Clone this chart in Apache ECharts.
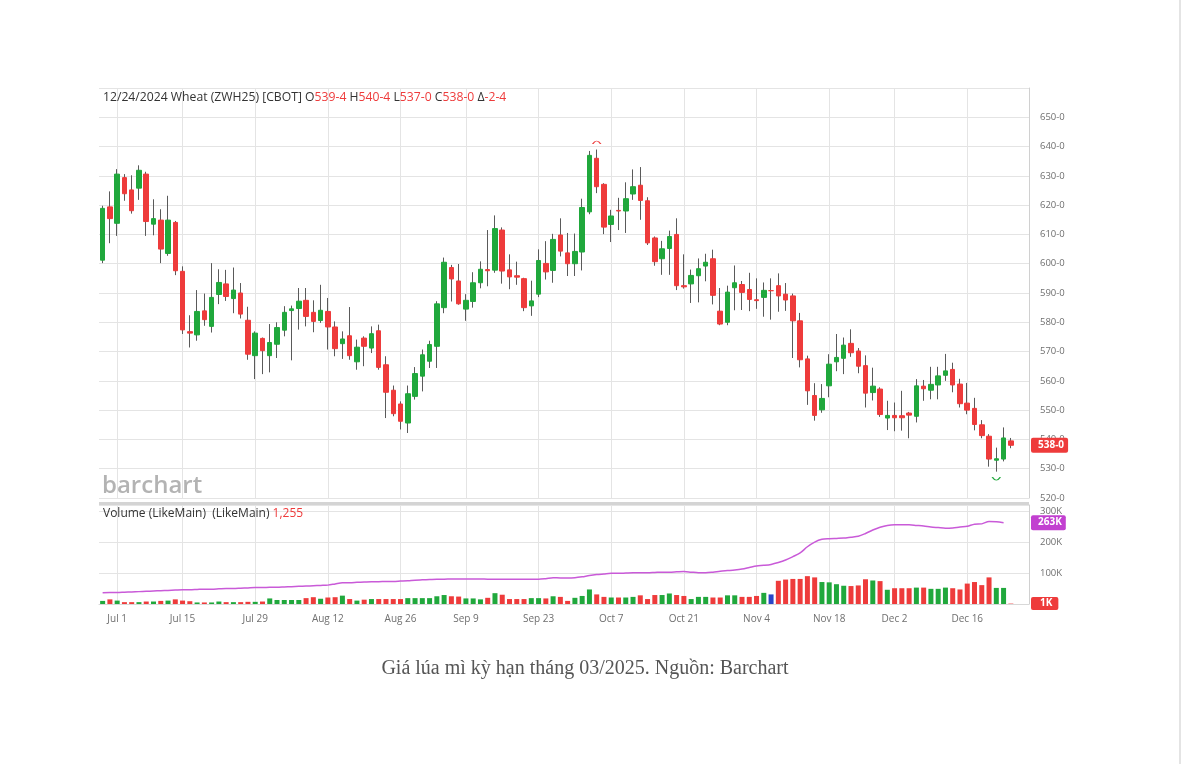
<!DOCTYPE html>
<html><head><meta charset="utf-8">
<script src="https://cdn.jsdelivr.net/npm/echarts@6/dist/echarts.min.js"></script>
<style>
html,body{margin:0;padding:0;background:#fff;}
#chart{position:absolute;left:0;top:0;width:1185px;height:764px;}
#edge{position:absolute;left:1179px;top:0;width:2px;height:764px;background:#e4e4e4;}
#cap{position:absolute;left:0;width:1170px;top:656px;text-align:center;font-family:"Liberation Serif","DejaVu Serif",serif;font-size:20px;color:#555;}
</style></head><body>
<div id="chart"></div><div id="edge"></div>
<div id="cap">Giá lúa mì kỳ hạn tháng 03/2025. Nguồn: Barchart</div>
<script>
// ---- DATA ----
const opens = [601.2,619.4,613.8,629.4,625.2,625.8,630.6,613.5,614.9,603.5,614.1,597.4,576.8,575.7,583.9,578.6,589.5,593.1,588.1,590.0,
580.7,568.6,574.5,568.6,572.5,577.3,584.0,584.7,587.5,583.4,580.6,583.7,578.4,572.7,575.4,566.5,574.6,571.2,577.1,565.5,
556.8,552.1,545.6,554.7,561.6,566.7,571.8,585.0,598.7,594.1,584.5,587.1,593.5,598.0,597.8,611.5,597.9,595.9,594.9,585.6,
589.6,600.1,597.7,609.8,603.7,600.0,604.0,617.7,636.0,627.1,613.4,618.2,618.0,623.8,626.8,621.5,608.8,601.7,605.2,610.0,
592.5,593.1,595.9,599.2,601.7,583.8,580.0,591.8,592.9,591.2,587.7,588.5,590.8,592.5,589.6,589.0,580.5,567.5,555.0,550.1,
558.3,566.5,567.7,572.8,570.2,565.2,556.0,557.2,547.3,548.2,548.1,549.0,547.9,558.2,556.8,558.6,561.9,563.9,558.9,552.4,
550.6,545.0,541.1,532.9,533.3,539.5];
const closes = [618.9,615.4,630.6,623.9,618.1,631.9,614.4,615.4,605.0,614.9,597.6,577.4,576.3,583.7,580.9,588.5,593.6,588.8,591.0,582.8,
569.1,576.3,570.3,573.1,578.2,583.4,584.6,587.2,582.0,580.3,584.1,578.4,571.0,574.3,568.6,571.5,571.8,576.1,564.6,556.1,
548.8,546.2,555.6,562.5,568.9,572.4,586.3,600.5,594.8,586.3,587.5,593.5,598.1,597.6,612.0,597.5,595.5,595.4,585.0,587.3,
601.1,597.2,608.3,604.3,600.0,604.2,619.2,637.0,626.3,612.5,616.3,618.0,622.2,626.3,621.6,607.1,600.7,605.1,609.3,592.5,
592.1,596.0,598.3,600.5,589.2,579.4,590.3,593.5,590.2,587.8,587.4,590.9,590.8,589.0,587.6,580.5,567.2,556.6,548.2,554.0,
565.7,568.0,572.2,569.6,565.0,555.8,558.2,548.5,548.2,547.4,547.4,548.3,558.3,557.3,558.8,561.7,563.4,558.6,552.2,550.0,
545.1,541.3,533.3,533.4,540.5,538.0];
const highs = [619.8,624.7,632.3,630.6,630.2,633.6,631.4,622.0,618.6,623.2,614.6,599.1,582.4,591.0,589.8,600.2,598.1,597.9,598.7,593.4,
585.3,576.9,574.8,579.4,580.0,585.5,585.7,591.7,591.7,587.5,592.8,588.3,580.3,576.9,585.2,574.1,575.2,578.6,579.2,568.4,
558.4,553.0,558.4,564.7,570.7,573.7,587.2,602.1,599.6,599.9,589.6,597.1,600.8,611.5,616.5,612.4,603.2,600.7,595.2,594.2,
604.9,607.7,610.2,615.5,610.5,610.3,622.2,638.5,639.0,627.5,618.4,622.5,627.8,632.2,633.0,622.7,609.3,607.8,611.3,615.5,
603.2,598.0,601.8,603.4,604.8,591.7,592.5,599.4,594.1,596.9,595.0,593.6,595.0,596.7,593.4,589.8,583.2,568.6,559.2,558.9,
569.1,576.0,574.8,577.6,571.2,568.7,564.5,557.8,553.2,552.6,556.6,549.4,560.6,560.3,564.8,564.8,569.2,566.2,560.7,559.3,
554.2,546.6,541.8,537.2,544.1,540.5];
const lows = [600.2,607.0,609.5,621.5,617.1,621.8,609.5,609.7,600.2,602.7,596.1,576.0,571.4,573.7,578.8,576.5,586.2,587.3,583.1,581.3,
567.2,560.6,562.3,562.9,567.8,575.2,567.0,577.5,578.6,576.6,579.8,570.7,568.4,567.5,567.2,563.8,565.0,569.5,563.8,547.3,
547.9,543.4,542.2,553.6,556.4,564.4,564.4,583.1,587.1,586.0,580.5,585.0,591.6,592.3,596.9,593.2,591.3,592.8,583.8,582.2,
588.6,594.6,593.5,602.5,595.8,595.8,597.7,616.9,624.1,610.1,607.4,611.5,610.5,621.8,615.0,606.4,599.3,596.2,596.2,591.0,
591.5,586.6,586.8,594.0,586.1,579.0,579.0,584.1,584.2,583.8,584.6,581.9,580.9,583.6,583.9,567.8,564.6,551.8,546.4,549.1,
554.4,563.3,562.3,568.2,562.6,550.9,553.3,547.7,543.2,542.8,543.0,540.4,545.8,553.2,553.7,553.7,560.0,556.1,550.9,548.6,
543.1,540.4,530.7,529.0,532.5,537.0];
// volume in thousands of contracts
const volumesK = [10,15,11,6,6,6,8,8,10,11,15,11,9,5,5,5,8,6,6,6,
7,7,8,18,13,13,13,13,19,22,17,21,22,27,16,11,14,16,16,16,
16,16,19,19,19,19,25,29,25,24,18,18,15,20,35,30,16,16,16,19,
19,18,25,23,10,20,26,47,31,23,21,21,21,23,28,16,29,29,34,29,
26,16,23,23,21,21,28,28,23,23,26,36,31,75,79,81,81,90,86,71,
70,64,59,58,60,80,76,74,46,51,51,51,53,53,49,49,53,51,47,66,
71,61,86,52,52,1.255];
// open interest (purple line) in thousands
const openInterestK = [36,37,37,38,39,40,41,42,43,44,45,46,46,47,48,48,49,50,50,51,
52,53,53,54,54,55,56,57,58,59,60,61,65,69,69,70,71,72,72,73,
73,74,75,77,78,79,80,80,81,81,81,81,81,80,80,80,80,80,80,80,
80,82,85,84,84,85,88,92,95,97,99,99,100,101,101,101,102,103,103,104,
105,103,101,101,103,106,108,110,113,118,123,125,128,134,142,153,165,185,200,209,
211,212,213,216,219,228,239,248,254,256,256,256,254,252,249,247,245,246,249,251,
258,259,267,266,263,null];
const priceTicks = [520,530,540,550,560,570,580,590,600,610,620,630,640,650];
const volumeTicksK = [100,200,300];
const tickDates = ['2024-07-01','2024-07-15','2024-07-29','2024-08-12','2024-08-26','2024-09-09','2024-09-23',
'2024-10-07','2024-10-21','2024-11-04','2024-11-18','2024-12-02','2024-12-16'];
const holidays = ['2024-07-04','2024-09-02','2024-11-28','2024-12-25'];
const firstDate = '2024-06-27';
const blankSessions = 2; // empty space kept to the right of the last bar

// ---- trading-day categories ----
const dates = [];
(function(){
  let d = new Date(firstDate + 'T00:00:00Z');
  while (dates.length < opens.length + blankSessions) {
    const s = d.toISOString().slice(0,10);
    const wd = d.getUTCDay();
    if (wd !== 0 && wd !== 6 && holidays.indexOf(s) < 0) dates.push(s);
    d = new Date(d.getTime() + 86400000);
  }
})();
const MON = ['Jan','Feb','Mar','Apr','May','Jun','Jul','Aug','Sep','Oct','Nov','Dec'];
const fmtDate = s => MON[+s.slice(5,7)-1] + ' ' + (+s.slice(8,10));
const isTickIdx = (i) => tickDates.indexOf(dates[i]) >= 0;

const UP = '#20a83c', DOWN = '#ee3b3b', WICK = '#5a5a5a', FLAT = '#2a45c8';
const wickData = opens.map((o,i)=>[o, closes[i], lows[i], highs[i]]);
const bodyData = opens.map((o,i)=>[o, closes[i], Math.min(o,closes[i]), Math.max(o,closes[i])]);
const volData = volumesK.map((v,i)=>({
  value: v*1000,
  itemStyle:{color: closes[i] > opens[i] ? UP : (closes[i] < opens[i] ? DOWN : FLAT)}
}));
const oiData = openInterestK.map(v => v === null ? null : v*1000);
let iMax = 0, iMin = 0;
highs.forEach((h,i)=>{ if (h > highs[iMax]) iMax = i; });
lows.forEach((l,i)=>{ if (l < lows[iMin]) iMin = i; });
const lastIdx = opens.length - 1;
let lastOi = oiData.length - 1; while (oiData[lastOi] === null) lastOi--;

const FONT = 'Open Sans';
const GRIDC = '#e4e4e4';
const chart = echarts.init(document.getElementById('chart'), null, {renderer:'canvas'});
const gL = 99, gW = 930;
const fmtPrice = v => Math.round(v) + '-0';
const flagLabel = (text, bg) => ({show:true, position:'end', distance:2, formatter:()=>text, color:'#fff',
  backgroundColor:bg, fontSize:10, fontWeight:'bold', padding:[3,4,2,7], borderRadius:2, fontFamily:FONT});
const hiddenLine = {color:'rgba(0,0,0,0)', width:0, type:'solid'};
const TS = 12.2;
const richHead = {
  k:{color:'#333',fontSize:TS,fontWeight:'normal',fontFamily:FONT},
  r:{color:'#ee3b3b',fontSize:TS,fontWeight:'normal',fontFamily:FONT}
};
chart.setOption({
  animation:false,
  textStyle:{fontFamily:FONT},
  title:[
    {left:103, top:92, padding:0, text:
      '{k|12/24/2024 Wheat (ZWH25) [CBOT] O}{r|539-4}{k| H}{r|540-4}{k| L}{r|537-0}{k| C}{r|538-0}{k| Δ}{r|-2-4}',
      textStyle:{fontWeight:'normal', rich:richHead}},
    {left:103, top:508, padding:0, text:'{k|Volume (LikeMain)  (LikeMain) }{r|1,255}',
      textStyle:{fontWeight:'normal', rich:{k:{color:'#333',fontSize:12,fontWeight:'normal',fontFamily:FONT},r:{color:'#ee3b3b',fontSize:12,fontWeight:'normal',fontFamily:FONT}}}}
  ],
  graphic:[
    {type:'text', left:102, top:474, silent:true, style:{text:'barchart', fill:'#b3b3b3', font:'600 24px "Open Sans"'}},
    {type:'rect', left:gL, top:502, silent:true, shape:{width:gW, height:3}, style:{fill:'#d4d4d4'}}
  ],
  grid:[
    {left:gL, width:gW, top:88, height:410},
    {left:gL, width:gW, top:505, height:99}
  ],
  xAxis:[
    {type:'category', gridIndex:0, data:dates, boundaryGap:true,
     axisLine:{show:false}, axisTick:{show:false}, axisLabel:{show:false},
     splitLine:{show:true, alignWithLabel:true, interval:(i)=>isTickIdx(i), lineStyle:{color:GRIDC}}},
    {type:'category', gridIndex:1, data:dates, boundaryGap:true,
     axisLine:{show:true, lineStyle:{color:'#d8d8d8'}}, axisTick:{show:false},
     axisLabel:{show:true, interval:(i)=>isTickIdx(i), formatter:fmtDate, color:'#6f6f6f', fontSize:10, margin:10, fontFamily:FONT},
     splitLine:{show:true, alignWithLabel:true, interval:(i)=>isTickIdx(i), lineStyle:{color:GRIDC}}}
  ],
  yAxis:[
    {type:'value', gridIndex:0, position:'right', min:520, max:660, interval:10, scale:true,
     axisLine:{show:true, lineStyle:{color:'#d0d0d0'}}, axisTick:{show:false},
     axisLabel:{color:'#6f6f6f', fontSize:9.5, margin:11, fontFamily:FONT,
       formatter:v => priceTicks.indexOf(Math.round(v)) >= 0 ? fmtPrice(v) : ''},
     splitLine:{show:true, lineStyle:{color:GRIDC}}},
    {type:'value', gridIndex:1, position:'right', min:0, max:320000, interval:100000,
     axisLine:{show:true, lineStyle:{color:'#d0d0d0'}}, axisTick:{show:false},
     axisLabel:{color:'#6f6f6f', fontSize:9.5, margin:11, fontFamily:FONT,
       formatter:v => volumeTicksK.indexOf(Math.round(v/1000)) >= 0 ? Math.round(v/1000)+'K' : ''},
     splitLine:{show:true, lineStyle:{color:GRIDC}}}
  ],
  series:[
    {type:'candlestick', name:'wick', xAxisIndex:0, yAxisIndex:0, data:wickData, barWidth:1,
     itemStyle:{color:WICK, color0:WICK, borderColor:WICK, borderColor0:WICK, borderWidth:1}},
    {type:'candlestick', name:'body', xAxisIndex:0, yAxisIndex:0, data:bodyData, barWidth:5,
     itemStyle:{color:UP, color0:DOWN, borderColor:UP, borderColor0:DOWN, borderWidth:1},
     markPoint:{silent:true, label:{show:false}, data:[
       {coord:[iMax, highs[iMax]], symbol:'path://M0,10 Q10,0 20,10', symbolSize:[8,3], symbolOffset:[0,-7],
        itemStyle:{color:'rgba(0,0,0,0)', borderColor:DOWN, borderWidth:1}},
       {coord:[iMin, lows[iMin]], symbol:'path://M0,0 Q10,10 20,0', symbolSize:[8,3], symbolOffset:[0,7],
        itemStyle:{color:'rgba(0,0,0,0)', borderColor:UP, borderWidth:1}}
     ]},
     markLine:{silent:true, symbol:['none','none'], lineStyle:hiddenLine,
       label:flagLabel(fmtPrice(closes[lastIdx]), DOWN),
       data:[{yAxis:closes[lastIdx]}]}},
    {type:'bar', name:'volume', xAxisIndex:1, yAxisIndex:1, data:volData, barWidth:5,
     markLine:{silent:true, symbol:['none','none'], lineStyle:hiddenLine,
       label:Object.assign(flagLabel('1K', DOWN), {padding:[2,6,1,9]}),
       data:[{yAxis:volumesK[lastIdx]*1000}]}},
    {type:'line', name:'oi', xAxisIndex:1, yAxisIndex:1, data:oiData, showSymbol:false, smooth:0.3,
     lineStyle:{color:'#c95ad8', width:1.5}, itemStyle:{color:'#c95ad8'},
     markLine:{silent:true, symbol:['none','none'], lineStyle:hiddenLine,
       label:flagLabel(openInterestK[lastOi]+'K', '#c240d0'),
       data:[{yAxis:oiData[lastOi]}]}}
  ]
});
</script>
</body></html>
